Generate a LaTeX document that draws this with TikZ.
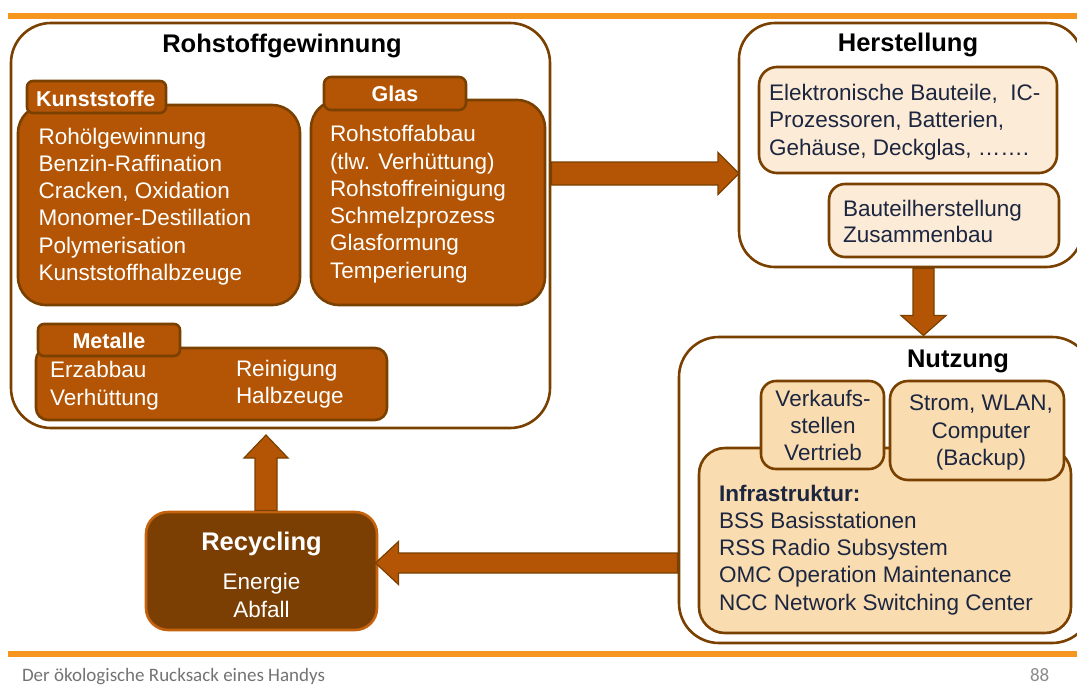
\documentclass[tikz,border=0pt]{standalone}
\usepackage{fontspec}
\setmainfont{Liberation Sans}
\newfontfamily\footerfont{Carlito}
\usetikzlibrary{calc}

\definecolor{rust}{RGB}{179,85,5}
\definecolor{darkrust}{RGB}{122,64,0}
\definecolor{recfill}{RGB}{123,63,4}
\definecolor{recedge}{RGB}{196,98,14}
\definecolor{peachlight}{RGB}{252,235,214}
\definecolor{peach}{RGB}{249,220,176}
\definecolor{navy}{RGB}{28,38,64}
\definecolor{barorange}{RGB}{247,150,30}

\tikzset{
  every node/.style={inner sep=0pt, outer sep=0pt},
  box/.style={anchor=north west, line width=2.6pt, draw=darkrust},
  panel/.style={box, fill=white},
  rustbox/.style={box, fill=rust},
  lightbox/.style={box, fill=peachlight},
  warmbox/.style={box, fill=peach},
  recbox/.style={box, fill=recfill, draw=recedge},
  heading/.style={anchor=base, font=\fontsize{25.5}{30}\selectfont\bfseries, text=black},
  tabtext/.style={font=\fontsize{21.5}{26}\selectfont\bfseries, text=white},
  bodytext/.style={anchor=base west, font=\fontsize{22.5}{27.5}\selectfont},
  whitetext/.style={bodytext, text=white},
  navytext/.style={bodytext, text=navy},
  blockarrow/.style={fill=rust, draw=darkrust, line width=1.2pt, line join=miter},
  bar/.style={draw=barorange, line width=6pt},
  footer/.style={anchor=base west, font=\footerfont\fontsize{19}{23}\selectfont}
}

\begin{document}
\begin{tikzpicture}[x=1pt, y=-1pt]
\useasboundingbox (0,0) rectangle (1077,686);
\clip (0,0) rectangle (1077,686);

% orange rules
\draw[bar] (8,16) -- (1077,16);
\draw[bar] (8,653.5) -- (1077,653.5);

% ---------- Rohstoffgewinnung ----------
\node[panel, rounded corners=40pt, minimum width=539pt, minimum height=405pt] (roh) at (11,23) {};
\node[heading] (rohtitle) at (282,52) {Rohstoffgewinnung};

% Kunststoffe
\node[rustbox, rounded corners=28pt, minimum width=282pt, minimum height=200pt] (kst) at (18,105) {};
\node[rustbox, rounded corners=6pt, minimum width=139pt, minimum height=32pt] (ksttab) at (27,81) {};
\node[tabtext, anchor=base west] (ksttitle) at (36,106) {Kunststoffe};
\foreach \t [count=\i from 0] in {Rohölgewinnung, Benzin-Raffination, {Cracken, Oxidation}, Monomer-Destillation, Polymerisation, Kunststoffhalbzeuge}
  \node[whitetext] (kst\i) at (38.6, 144+27.3*\i) {\t};

% Glas
\node[rustbox, rounded corners=28pt, minimum width=234pt, minimum height=205pt] (gla) at (311,100) {};
\node[rustbox, rounded corners=7pt, minimum width=142pt, minimum height=33pt] (glatab) at (324,77) {};
\node[tabtext, anchor=base] (glatitle) at (395,101) {Glas};
\foreach \t [count=\i from 0] in {Rohstoffabbau, (tlw. Verhüttung), Rohstoffreinigung, Schmelzprozess, Glasformung, Temperierung}
  \node[whitetext] (gla\i) at (330, 141.7+27.3*\i) {\t};

% Metalle
\node[rustbox, rounded corners=12pt, minimum width=351pt, minimum height=72pt] (met) at (36,348) {};
\node[rustbox, rounded corners=6pt, minimum width=142pt, minimum height=32pt] (mettab) at (38,324) {};
\node[tabtext, anchor=base] (mettitle) at (109,348) {Metalle};
\node[whitetext] (met1) at (50,377.5) {Erzabbau};
\node[whitetext] (met2) at (50,405) {Verhüttung};
\node[whitetext] (met3) at (236,376.5) {Reinigung};
\node[whitetext] (met4) at (236,403) {Halbzeuge};

% ---------- Herstellung ----------
\node[panel, rounded corners=36pt, minimum width=343pt, minimum height=244pt] (her) at (739,23) {};
\node[heading] (hertitle) at (908,51.7) {Herstellung};
\node[lightbox, rounded corners=18pt, minimum width=298pt, minimum height=106pt] (herA) at (759,67) {};
\node[navytext] (herA1) at (769,100) {Elektronische Bauteile,\ \ IC-};
\node[navytext] (herA2) at (769,127.5) {Prozessoren, Batterien,};
\node[navytext] (herA3) at (769,155) {Gehäuse, Deckglas, …….};
\node[lightbox, rounded corners=16pt, minimum width=230pt, minimum height=73pt] (herB) at (829,184) {};
\node[navytext] (herB1) at (843,216) {Bauteilherstellung};
\node[navytext] (herB2) at (843,242) {Zusammenbau};

% ---------- Nutzung ----------
\node[panel, rounded corners=40pt, minimum width=413pt, minimum height=306pt] (nut) at (679,337) {};
\node[heading] (nuttitle) at (958,367) {Nutzung};
\node[warmbox, rounded corners=26pt, minimum width=372pt, minimum height=185pt] (infra) at (699,448) {};
\node[warmbox, rounded corners=15pt, minimum width=123pt, minimum height=88pt] (verk) at (761,381) {};
\node[warmbox, rounded corners=18pt, minimum width=174pt, minimum height=99pt] (strom) at (890,381) {};
\foreach \t [count=\i from 0] in {Verkaufs-, stellen, Vertrieb}
  \node[navytext, anchor=base] (verk\i) at (823, 406+27.3*\i) {\t};
\foreach \t [count=\i from 0] in {{Strom, WLAN,}, Computer, (Backup)}
  \node[navytext, anchor=base] (strom\i) at (981, 410.5+27.5*\i) {\t};
\node[navytext, font=\fontsize{22.5}{27.5}\selectfont\bfseries] (infra0) at (719,501) {Infrastruktur:};
\foreach \t [count=\i from 1] in {BSS Basisstationen, RSS Radio Subsystem, OMC Operation Maintenance, NCC Network Switching Center}
  \node[navytext] (infra\i) at (719, 501+27.3*\i) {\t};

% ---------- Recycling ----------
\node[recbox, rounded corners=22pt, minimum width=231pt, minimum height=118pt] (rec) at (146,512) {};
\node[heading, text=white] (rectitle) at (261.5,550.7) {Recycling};
\node[whitetext, anchor=base] (rec1) at (261.5,589.3) {Energie};
\node[whitetext, anchor=base] (rec2) at (261.5,617.3) {Abfall};

% ---------- block arrows ----------
% Rohstoffgewinnung -> Herstellung
\coordinate (ra0) at ($(roh.north east)+(0,150.5)$);
\coordinate (ra1) at ($(her.north west)+(0,150.5)$);
\draw[blockarrow] let \p1=(ra0), \p2=(ra1) in
  (\x1+1.5pt,\y1+11.5pt) -- (\x2-21pt,\y1+11.5pt) -- (\x2-21pt,\y1+21pt) -- (\x2,\y1)
  -- (\x2-21pt,\y1-21pt) -- (\x2-21pt,\y1-11.5pt) -- (\x1+1.5pt,\y1-11.5pt) -- cycle;

% Herstellung -> Nutzung
\coordinate (da0) at ($(her.south)+(13,0)$);
\coordinate (da1) at ($(nut.north -| da0)+(0,-1.5)$);
\draw[blockarrow] let \p1=(da0), \p2=(da1) in
  (\x1-10.5pt,\y1-1.5pt) -- (\x1-10.5pt,\y2+20pt) -- (\x1-22.5pt,\y2+20pt) -- (\x1,\y2)
  -- (\x1+22.5pt,\y2+20pt) -- (\x1+10.5pt,\y2+20pt) -- (\x1+10.5pt,\y1-1.5pt) -- cycle;

% Nutzung -> Recycling
\coordinate (la0) at ($(nut.south west)+(0,-80)$);
\coordinate (la1) at ($(rec.east |- la0)+(-1.5,0)$);
\draw[blockarrow] let \p1=(la0), \p2=(la1) in
  (\x1-1.5pt,\y1+10pt) -- (\x2+23pt,\y1+10pt) -- (\x2+23pt,\y1+21.5pt) -- (\x2,\y1)
  -- (\x2+23pt,\y1-21.5pt) -- (\x2+23pt,\y1-10pt) -- (\x1-1.5pt,\y1-10pt) -- cycle;

% Recycling -> Rohstoffgewinnung
\coordinate (ua0) at ($(rec.north)+(4.5,0)$);
\coordinate (ua1) at ($(roh.south -| ua0)+(0,7)$);
\draw[blockarrow] let \p1=(ua0), \p2=(ua1) in
  (\x1-11pt,\y1+1.5pt) -- (\x1-11pt,\y2-23pt) -- (\x1-22pt,\y2-23pt) -- (\x2,\y2)
  -- (\x1+22pt,\y2-23pt) -- (\x1+11pt,\y2-23pt) -- (\x1+11pt,\y1+1.5pt) -- cycle;

% footer
\node[footer, text=black!55] (foot) at (22,681) {Der ökologische Rucksack eines Handys};
\node[footer, text=black!45] (pageno) at (1030,681) {88};
\end{tikzpicture}
\end{document}
